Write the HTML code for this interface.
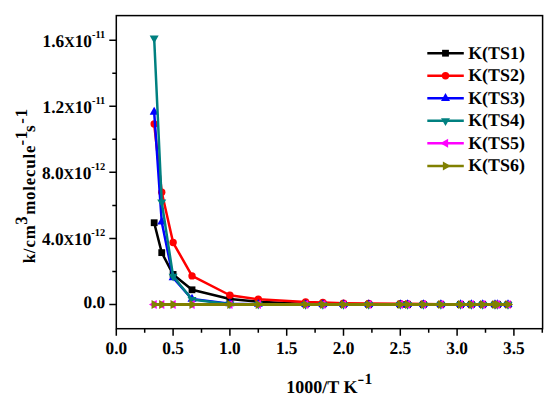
<!DOCTYPE html>
<html><head><meta charset="utf-8"><style>
html,body{margin:0;padding:0;background:#fff;}
svg{display:block;}
.t{font-family:"Liberation Serif",serif;font-weight:bold;fill:#000;text-rendering:geometricPrecision;}
.tk{font-size:17.3px;}
.sup{font-size:10.4px;}
.xs{font-size:14.5px;}
.sup2{font-size:15.5px;}
.ttl{font-size:18px;}
.yt{font-size:16.8px;letter-spacing:0.85px;}
.lg{font-size:17.9px;}
</style></head><body>
<svg width="550" height="397" viewBox="0 0 550 397">
<rect width="550" height="397" fill="#fff"/>
<rect x="116.3" y="15.6" width="426.3" height="313.09999999999997" fill="none" stroke="#000" stroke-width="1.5"/>
<path d="M116.30,328.7v7M144.70,328.7v4M173.10,328.7v7M201.50,328.7v4M229.90,328.7v7M258.30,328.7v4M286.70,328.7v7M315.10,328.7v4M343.50,328.7v7M371.90,328.7v4M400.30,328.7v7M428.70,328.7v4M457.10,328.7v7M485.50,328.7v4M513.90,328.7v7M542.30,328.7v4M116.3,304.50h-7M116.3,271.46h-4M116.3,238.42h-7M116.3,205.38h-4M116.3,172.34h-7M116.3,139.30h-4M116.3,106.26h-7M116.3,73.22h-4M116.3,40.18h-7" stroke="#000" stroke-width="1.5" fill="none"/>
<defs><clipPath id="c"><rect x="116.3" y="15.6" width="426.3" height="313.09999999999997"/></clipPath></defs>
<g clip-path="url(#c)">
<polyline points="154.17,222.73 161.74,252.63 173.10,274.43 192.03,289.80 229.90,299.05 258.30,301.69 305.63,304.00 322.85,304.17 343.50,304.33 368.74,304.50 400.30,304.50 407.58,304.50 423.33,304.50 440.87,304.50 460.54,304.50 471.30,304.50 482.75,304.50 494.97,304.50 497.51,304.50 508.02,304.50" fill="none" stroke="#000000" stroke-width="2.5" stroke-linejoin="round"/>
<rect x="150.77" y="219.33" width="6.80" height="6.80" fill="#000000"/>
<rect x="158.34" y="249.23" width="6.80" height="6.80" fill="#000000"/>
<rect x="169.70" y="271.03" width="6.80" height="6.80" fill="#000000"/>
<rect x="188.63" y="286.40" width="6.80" height="6.80" fill="#000000"/>
<rect x="226.50" y="295.65" width="6.80" height="6.80" fill="#000000"/>
<rect x="254.90" y="298.29" width="6.80" height="6.80" fill="#000000"/>
<rect x="302.23" y="300.60" width="6.80" height="6.80" fill="#000000"/>
<rect x="319.45" y="300.77" width="6.80" height="6.80" fill="#000000"/>
<rect x="340.10" y="300.93" width="6.80" height="6.80" fill="#000000"/>
<rect x="365.34" y="301.10" width="6.80" height="6.80" fill="#000000"/>
<rect x="396.90" y="301.10" width="6.80" height="6.80" fill="#000000"/>
<rect x="404.18" y="301.10" width="6.80" height="6.80" fill="#000000"/>
<rect x="419.93" y="301.10" width="6.80" height="6.80" fill="#000000"/>
<rect x="437.47" y="301.10" width="6.80" height="6.80" fill="#000000"/>
<rect x="457.14" y="301.10" width="6.80" height="6.80" fill="#000000"/>
<rect x="467.90" y="301.10" width="6.80" height="6.80" fill="#000000"/>
<rect x="479.35" y="301.10" width="6.80" height="6.80" fill="#000000"/>
<rect x="491.57" y="301.10" width="6.80" height="6.80" fill="#000000"/>
<rect x="494.11" y="301.10" width="6.80" height="6.80" fill="#000000"/>
<rect x="504.62" y="301.10" width="6.80" height="6.80" fill="#000000"/>
<polyline points="154.17,123.94 161.74,192.16 173.10,242.55 192.03,275.92 229.90,295.25 258.30,299.21 305.63,302.02 322.85,302.52 343.50,303.18 368.74,303.51 400.30,303.76 407.58,303.84 423.33,304.00 440.87,304.17 460.54,304.33 471.30,304.50 482.75,304.50 494.97,304.50 497.51,304.50 508.02,304.50" fill="none" stroke="#ff0000" stroke-width="2.5" stroke-linejoin="round"/>
<circle cx="154.17" cy="123.94" r="3.70" fill="#ff0000"/>
<circle cx="161.74" cy="192.16" r="3.70" fill="#ff0000"/>
<circle cx="173.10" cy="242.55" r="3.70" fill="#ff0000"/>
<circle cx="192.03" cy="275.92" r="3.70" fill="#ff0000"/>
<circle cx="229.90" cy="295.25" r="3.70" fill="#ff0000"/>
<circle cx="258.30" cy="299.21" r="3.70" fill="#ff0000"/>
<circle cx="305.63" cy="302.02" r="3.70" fill="#ff0000"/>
<circle cx="322.85" cy="302.52" r="3.70" fill="#ff0000"/>
<circle cx="343.50" cy="303.18" r="3.70" fill="#ff0000"/>
<circle cx="368.74" cy="303.51" r="3.70" fill="#ff0000"/>
<circle cx="400.30" cy="303.76" r="3.70" fill="#ff0000"/>
<circle cx="407.58" cy="303.84" r="3.70" fill="#ff0000"/>
<circle cx="423.33" cy="304.00" r="3.70" fill="#ff0000"/>
<circle cx="440.87" cy="304.17" r="3.70" fill="#ff0000"/>
<circle cx="460.54" cy="304.33" r="3.70" fill="#ff0000"/>
<circle cx="471.30" cy="304.50" r="3.70" fill="#ff0000"/>
<circle cx="482.75" cy="304.50" r="3.70" fill="#ff0000"/>
<circle cx="494.97" cy="304.50" r="3.70" fill="#ff0000"/>
<circle cx="497.51" cy="304.50" r="3.70" fill="#ff0000"/>
<circle cx="508.02" cy="304.50" r="3.70" fill="#ff0000"/>
<polyline points="154.17,112.04 161.74,221.90 173.10,277.74 192.03,299.05 229.90,303.67 258.30,304.17 305.63,304.33 322.85,304.50 343.50,304.50 368.74,304.50 400.30,304.50 407.58,304.50 423.33,304.50 440.87,304.50 460.54,304.50 471.30,304.50 482.75,304.50 494.97,304.50 497.51,304.50 508.02,304.50" fill="none" stroke="#0000ff" stroke-width="2.5" stroke-linejoin="round"/>
<path d="M154.17,106.85L158.67,114.64L149.67,114.64Z" fill="#0000ff"/>
<path d="M161.74,216.70L166.24,224.50L157.24,224.50Z" fill="#0000ff"/>
<path d="M173.10,272.54L177.60,280.34L168.60,280.34Z" fill="#0000ff"/>
<path d="M192.03,293.85L196.53,301.65L187.53,301.65Z" fill="#0000ff"/>
<path d="M229.90,298.48L234.40,306.27L225.40,306.27Z" fill="#0000ff"/>
<path d="M258.30,298.97L262.80,306.77L253.80,306.77Z" fill="#0000ff"/>
<path d="M305.63,299.14L310.13,306.93L301.13,306.93Z" fill="#0000ff"/>
<path d="M322.85,299.30L327.35,307.10L318.35,307.10Z" fill="#0000ff"/>
<path d="M343.50,299.30L348.00,307.10L339.00,307.10Z" fill="#0000ff"/>
<path d="M368.74,299.30L373.24,307.10L364.24,307.10Z" fill="#0000ff"/>
<path d="M400.30,299.30L404.80,307.10L395.80,307.10Z" fill="#0000ff"/>
<path d="M407.58,299.30L412.08,307.10L403.08,307.10Z" fill="#0000ff"/>
<path d="M423.33,299.30L427.83,307.10L418.83,307.10Z" fill="#0000ff"/>
<path d="M440.87,299.30L445.37,307.10L436.37,307.10Z" fill="#0000ff"/>
<path d="M460.54,299.30L465.04,307.10L456.04,307.10Z" fill="#0000ff"/>
<path d="M471.30,299.30L475.80,307.10L466.80,307.10Z" fill="#0000ff"/>
<path d="M482.75,299.30L487.25,307.10L478.25,307.10Z" fill="#0000ff"/>
<path d="M494.97,299.30L499.47,307.10L490.47,307.10Z" fill="#0000ff"/>
<path d="M497.51,299.30L502.01,307.10L493.01,307.10Z" fill="#0000ff"/>
<path d="M508.02,299.30L512.52,307.10L503.52,307.10Z" fill="#0000ff"/>
<polyline points="154.17,38.20 161.74,202.08 173.10,276.25 192.03,299.54 229.90,304.17 258.30,304.33 305.63,304.50 322.85,304.50 343.50,304.50 368.74,304.50 400.30,304.50 407.58,304.50 423.33,304.50 440.87,304.50 460.54,304.50 471.30,304.50 482.75,304.50 494.97,304.50 497.51,304.50 508.02,304.50" fill="none" stroke="#008080" stroke-width="2.5" stroke-linejoin="round"/>
<path d="M154.17,43.39L158.67,35.60L149.67,35.60Z" fill="#008080"/>
<path d="M161.74,207.27L166.24,199.48L157.24,199.48Z" fill="#008080"/>
<path d="M173.10,281.45L177.60,273.65L168.60,273.65Z" fill="#008080"/>
<path d="M192.03,304.74L196.53,296.95L187.53,296.95Z" fill="#008080"/>
<path d="M229.90,309.37L234.40,301.57L225.40,301.57Z" fill="#008080"/>
<path d="M258.30,309.53L262.80,301.74L253.80,301.74Z" fill="#008080"/>
<path d="M305.63,309.70L310.13,301.90L301.13,301.90Z" fill="#008080"/>
<path d="M322.85,309.70L327.35,301.90L318.35,301.90Z" fill="#008080"/>
<path d="M343.50,309.70L348.00,301.90L339.00,301.90Z" fill="#008080"/>
<path d="M368.74,309.70L373.24,301.90L364.24,301.90Z" fill="#008080"/>
<path d="M400.30,309.70L404.80,301.90L395.80,301.90Z" fill="#008080"/>
<path d="M407.58,309.70L412.08,301.90L403.08,301.90Z" fill="#008080"/>
<path d="M423.33,309.70L427.83,301.90L418.83,301.90Z" fill="#008080"/>
<path d="M440.87,309.70L445.37,301.90L436.37,301.90Z" fill="#008080"/>
<path d="M460.54,309.70L465.04,301.90L456.04,301.90Z" fill="#008080"/>
<path d="M471.30,309.70L475.80,301.90L466.80,301.90Z" fill="#008080"/>
<path d="M482.75,309.70L487.25,301.90L478.25,301.90Z" fill="#008080"/>
<path d="M494.97,309.70L499.47,301.90L490.47,301.90Z" fill="#008080"/>
<path d="M497.51,309.70L502.01,301.90L493.01,301.90Z" fill="#008080"/>
<path d="M508.02,309.70L512.52,301.90L503.52,301.90Z" fill="#008080"/>
<polyline points="154.17,304.50 161.74,304.50 173.10,304.50 192.03,304.50 229.90,304.50 258.30,304.50 305.63,304.50 322.85,304.50 343.50,304.50 368.74,304.50 400.30,304.50 407.58,304.50 423.33,304.50 440.87,304.50 460.54,304.50 471.30,304.50 482.75,304.50 494.97,304.50 497.51,304.50 508.02,304.50" fill="none" stroke="#ff00ff" stroke-width="2.8" stroke-linejoin="round"/>
<path d="M148.97,304.50L156.76,300.00L156.76,309.00Z" fill="#ff00ff"/>
<path d="M156.54,304.50L164.34,300.00L164.34,309.00Z" fill="#ff00ff"/>
<path d="M167.90,304.50L175.70,300.00L175.70,309.00Z" fill="#ff00ff"/>
<path d="M186.84,304.50L194.63,300.00L194.63,309.00Z" fill="#ff00ff"/>
<path d="M224.70,304.50L232.50,300.00L232.50,309.00Z" fill="#ff00ff"/>
<path d="M253.10,304.50L260.90,300.00L260.90,309.00Z" fill="#ff00ff"/>
<path d="M300.44,304.50L308.23,300.00L308.23,309.00Z" fill="#ff00ff"/>
<path d="M317.65,304.50L325.44,300.00L325.44,309.00Z" fill="#ff00ff"/>
<path d="M338.30,304.50L346.10,300.00L346.10,309.00Z" fill="#ff00ff"/>
<path d="M363.55,304.50L371.34,300.00L371.34,309.00Z" fill="#ff00ff"/>
<path d="M395.10,304.50L402.90,300.00L402.90,309.00Z" fill="#ff00ff"/>
<path d="M402.39,304.50L410.18,300.00L410.18,309.00Z" fill="#ff00ff"/>
<path d="M418.13,304.50L425.93,300.00L425.93,309.00Z" fill="#ff00ff"/>
<path d="M435.68,304.50L443.47,300.00L443.47,309.00Z" fill="#ff00ff"/>
<path d="M455.35,304.50L463.14,300.00L463.14,309.00Z" fill="#ff00ff"/>
<path d="M466.10,304.50L473.90,300.00L473.90,309.00Z" fill="#ff00ff"/>
<path d="M477.56,304.50L485.35,300.00L485.35,309.00Z" fill="#ff00ff"/>
<path d="M489.77,304.50L497.56,300.00L497.56,309.00Z" fill="#ff00ff"/>
<path d="M492.31,304.50L500.11,300.00L500.11,309.00Z" fill="#ff00ff"/>
<path d="M502.83,304.50L510.62,300.00L510.62,309.00Z" fill="#ff00ff"/>
<polyline points="154.17,304.50 161.74,304.50 173.10,304.50 192.03,304.50 229.90,304.50 258.30,304.50 305.63,304.50 322.85,304.50 343.50,304.50 368.74,304.50 400.30,304.50 407.58,304.50 423.33,304.50 440.87,304.50 460.54,304.50 471.30,304.50 482.75,304.50 494.97,304.50 497.51,304.50 508.02,304.50" fill="none" stroke="#808000" stroke-width="3.0" stroke-linejoin="round"/>
<path d="M159.36,304.50L151.57,300.00L151.57,309.00Z" fill="#808000"/>
<path d="M166.94,304.50L159.14,300.00L159.14,309.00Z" fill="#808000"/>
<path d="M178.30,304.50L170.50,300.00L170.50,309.00Z" fill="#808000"/>
<path d="M197.23,304.50L189.44,300.00L189.44,309.00Z" fill="#808000"/>
<path d="M235.10,304.50L227.30,300.00L227.30,309.00Z" fill="#808000"/>
<path d="M263.50,304.50L255.70,300.00L255.70,309.00Z" fill="#808000"/>
<path d="M310.83,304.50L303.04,300.00L303.04,309.00Z" fill="#808000"/>
<path d="M328.04,304.50L320.25,300.00L320.25,309.00Z" fill="#808000"/>
<path d="M348.70,304.50L340.90,300.00L340.90,309.00Z" fill="#808000"/>
<path d="M373.94,304.50L366.15,300.00L366.15,309.00Z" fill="#808000"/>
<path d="M405.50,304.50L397.70,300.00L397.70,309.00Z" fill="#808000"/>
<path d="M412.78,304.50L404.98,300.00L404.98,309.00Z" fill="#808000"/>
<path d="M428.52,304.50L420.73,300.00L420.73,309.00Z" fill="#808000"/>
<path d="M446.07,304.50L438.27,300.00L438.27,309.00Z" fill="#808000"/>
<path d="M465.74,304.50L457.94,300.00L457.94,309.00Z" fill="#808000"/>
<path d="M476.50,304.50L468.70,300.00L468.70,309.00Z" fill="#808000"/>
<path d="M487.95,304.50L480.15,300.00L480.15,309.00Z" fill="#808000"/>
<path d="M500.16,304.50L492.37,300.00L492.37,309.00Z" fill="#808000"/>
<path d="M502.70,304.50L494.91,300.00L494.91,309.00Z" fill="#808000"/>
<path d="M513.22,304.50L505.43,300.00L505.43,309.00Z" fill="#808000"/>
</g>
<text transform="translate(116.30,354.30) scale(1,1.03)" class="t tk" text-anchor="middle">0.0</text>
<text transform="translate(173.10,354.30) scale(1,1.03)" class="t tk" text-anchor="middle">0.5</text>
<text transform="translate(229.90,354.30) scale(1,1.03)" class="t tk" text-anchor="middle">1.0</text>
<text transform="translate(286.70,354.30) scale(1,1.03)" class="t tk" text-anchor="middle">1.5</text>
<text transform="translate(343.50,354.30) scale(1,1.03)" class="t tk" text-anchor="middle">2.0</text>
<text transform="translate(400.30,354.30) scale(1,1.03)" class="t tk" text-anchor="middle">2.5</text>
<text transform="translate(457.10,354.30) scale(1,1.03)" class="t tk" text-anchor="middle">3.0</text>
<text transform="translate(513.90,354.30) scale(1,1.03)" class="t tk" text-anchor="middle">3.5</text>
<text transform="translate(105.20,308.30) scale(1,1.03)" class="t tk" text-anchor="end">0.0</text>
<text transform="translate(105.20,245.02) scale(1,1.03)" class="t tk" text-anchor="end">4.0<tspan class="xs">X</tspan>10<tspan class="sup" dy="-8.4">-12</tspan></text>
<text transform="translate(105.20,178.94) scale(1,1.03)" class="t tk" text-anchor="end">8.0<tspan class="xs">X</tspan>10<tspan class="sup" dy="-8.4">-12</tspan></text>
<text transform="translate(105.20,112.86) scale(1,1.03)" class="t tk" text-anchor="end">1.2<tspan class="xs">X</tspan>10<tspan class="sup" dy="-8.4">-11</tspan></text>
<text transform="translate(105.20,46.78) scale(1,1.03)" class="t tk" text-anchor="end">1.6<tspan class="xs">X</tspan>10<tspan class="sup" dy="-8.4">-11</tspan></text>
<text transform="translate(286.20,393.30) scale(1,1.0)" class="t ttl">1000/T K</text>
<text transform="translate(357.6,384.0) scale(1.3,1)" class="t sup2">-</text>
<text transform="translate(364.50,384.40) scale(1,1.0)" class="t sup2">1</text>
<g transform="translate(35.2,0) rotate(-90)">
<text transform="translate(-263.32,0.00) scale(1,1.03)" class="t yt">k/cm</text>
<text transform="translate(-224.84,-8.60) scale(1,1.03)" class="t yt">3</text>
<text transform="translate(-214.85,0.00) scale(1,1.03)" class="t yt">molecule</text>
<text transform="translate(-145.62,-8.60) scale(1,1.03)" class="t yt">-1</text>
<text transform="translate(-132.10,0.00) scale(1,1.03)" class="t yt">s</text>
<text transform="translate(-123.72,-8.60) scale(1,1.03)" class="t yt">-1</text>
</g>
<line x1="427.3" x2="463.8" y1="53.20" y2="53.20" stroke="#000000" stroke-width="2.5"/>
<rect x="442.10" y="49.80" width="6.80" height="6.80" fill="#000000"/>
<text transform="translate(468.20,58.50) scale(1,1.0)" class="t lg">K(TS1)</text>
<line x1="427.3" x2="463.8" y1="75.74" y2="75.74" stroke="#ff0000" stroke-width="2.5"/>
<circle cx="445.50" cy="75.74" r="3.70" fill="#ff0000"/>
<text transform="translate(468.20,81.04) scale(1,1.0)" class="t lg">K(TS2)</text>
<line x1="427.3" x2="463.8" y1="98.28" y2="98.28" stroke="#0000ff" stroke-width="2.5"/>
<path d="M445.50,93.08L450.00,100.88L441.00,100.88Z" fill="#0000ff"/>
<text transform="translate(468.20,103.58) scale(1,1.0)" class="t lg">K(TS3)</text>
<line x1="427.3" x2="463.8" y1="120.82" y2="120.82" stroke="#008080" stroke-width="2.5"/>
<path d="M445.50,126.02L450.00,118.22L441.00,118.22Z" fill="#008080"/>
<text transform="translate(468.20,126.12) scale(1,1.0)" class="t lg">K(TS4)</text>
<line x1="427.3" x2="463.8" y1="143.36" y2="143.36" stroke="#ff00ff" stroke-width="2.5"/>
<path d="M440.30,143.36L448.10,138.86L448.10,147.86Z" fill="#ff00ff"/>
<text transform="translate(468.20,148.66) scale(1,1.0)" class="t lg">K(TS5)</text>
<line x1="427.3" x2="463.8" y1="165.90" y2="165.90" stroke="#808000" stroke-width="2.5"/>
<path d="M450.70,165.90L442.90,161.40L442.90,170.40Z" fill="#808000"/>
<text transform="translate(468.20,171.20) scale(1,1.0)" class="t lg">K(TS6)</text>
</svg>
</body></html>
